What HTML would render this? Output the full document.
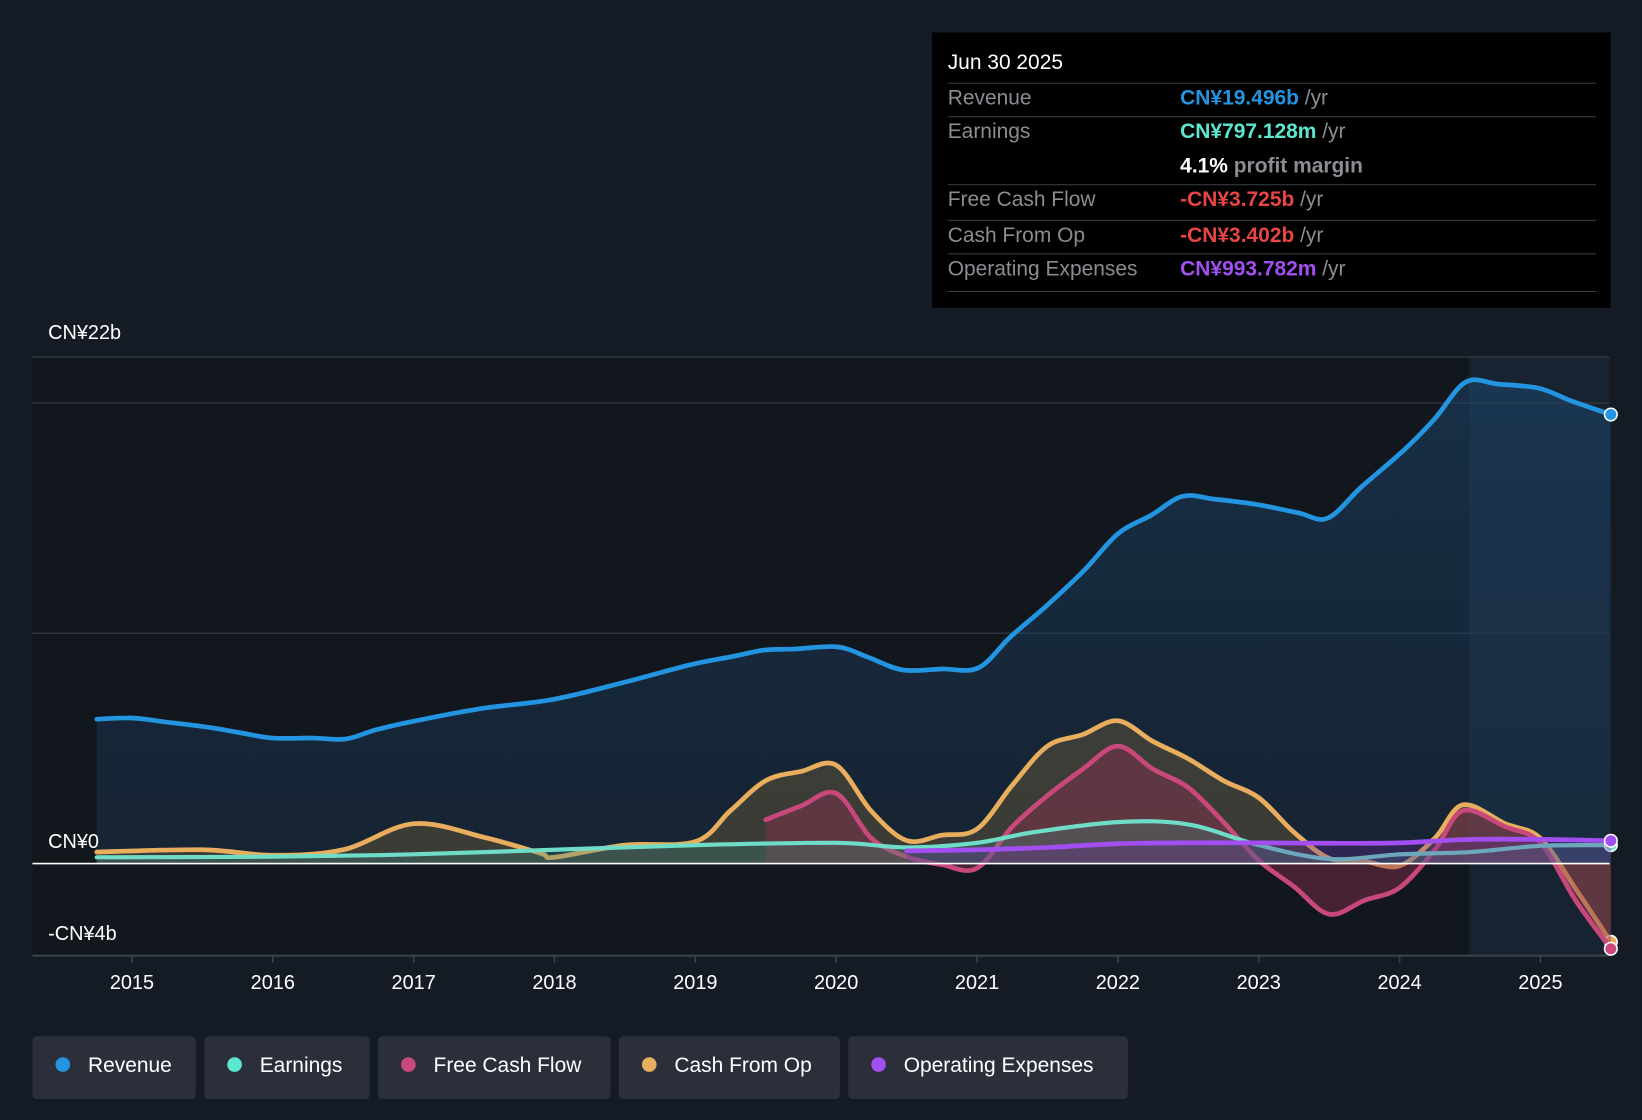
<!DOCTYPE html>
<html><head><meta charset="utf-8">
<style>
html,body{margin:0;padding:0;background:#151b24;overflow:hidden;width:1642px;height:1120px}
#root{position:absolute;left:0;top:0;width:1568px;height:1070px;transform:scale(1.04719,1.04673);transform-origin:0 0;background:#151b24;font-family:"Liberation Sans",sans-serif}
.tt{position:absolute;left:890px;top:31px;width:648px;height:263px;background:#000}
.tt .d{position:absolute;left:15px;top:18px;color:#fff;font-size:20px}
.row{position:absolute;left:15px;width:619px;border-top:1.5px solid #3a3d42;font-size:20px;color:#8a8d92}
.row .l{position:absolute;left:0;top:3px}
.row .v{position:absolute;left:222px;top:3px;font-weight:bold}
.row .v span{font-weight:normal;color:#8a8d92}
.lg{position:absolute;top:990px;height:60px;background:#2a2f3a;border-radius:4px;color:#fff;font-size:20px;line-height:57px}
.lg i{position:absolute;left:22px;top:20px;width:14px;height:14px;border-radius:50%}
.lg b{font-weight:normal;position:absolute;left:53px}
</style></head><body>
<div id="root">
<svg id="svg" width="1568" height="1070" style="position:absolute;left:0;top:0"></svg>
<div class="tt">
 <div class="d">Jun 30 2025</div>
 <div class="row" style="top:48px;height:32px"><div class="l">Revenue</div><div class="v" style="color:#2394e0">CN¥19.496b <span>/yr</span></div></div>
 <div class="row" style="top:80px;height:64px"><div class="l">Earnings</div><div class="v" style="color:#5ce8d0">CN¥797.128m <span>/yr</span></div><div class="v" style="top:36px;color:#fff">4.1% <span style="font-weight:bold">profit margin</span></div></div>
 <div class="row" style="top:145px;height:33px"><div class="l">Free Cash Flow</div><div class="v" style="color:#e84545">-CN¥3.725b <span>/yr</span></div></div>
 <div class="row" style="top:179px;height:32px"><div class="l">Cash From Op</div><div class="v" style="color:#e84545">-CN¥3.402b <span>/yr</span></div></div>
 <div class="row" style="top:211px;height:35px;border-bottom:1.5px solid #3a3d42"><div class="l">Operating Expenses</div><div class="v" style="color:#a24ef0">CN¥993.782m <span>/yr</span></div></div>
</div>
<div class="lg" style="left:31px;width:156px"><i style="background:#2394e0"></i><b>Revenue</b></div>
<div class="lg" style="left:195px;width:158px"><i style="background:#5ce8d0"></i><b>Earnings</b></div>
<div class="lg" style="left:361px;width:222px"><i style="background:#c9487c"></i><b>Free Cash Flow</b></div>
<div class="lg" style="left:591px;width:211px"><i style="background:#e8ae5e"></i><b>Cash From Op</b></div>
<div class="lg" style="left:810px;width:267px"><i style="background:#a24ef0"></i><b>Operating Expenses</b></div>
</div>
<script>
const revT=[2014.75,2015,2015.25,2015.55,2015.77,2016,2016.29,2016.52,2016.74,2017.04,2017.48,2018,2018.52,2018.97,2019.27,2019.49,2019.71,2020.01,2020.23,2020.47,2020.75,2021.01,2021.24,2021.5,2021.76,2022,2022.24,2022.46,2022.69,2022.99,2023.28,2023.49,2023.73,2024.03,2024.25,2024.47,2024.7,2024.99,2025.22,2025.5];
const revV=[6.27,6.32,6.14,5.91,5.68,5.45,5.45,5.41,5.82,6.23,6.73,7.14,7.91,8.64,9.0,9.27,9.32,9.41,8.95,8.41,8.45,8.5,9.86,11.23,12.73,14.32,15.14,15.95,15.82,15.59,15.23,15.0,16.36,17.95,19.32,20.91,20.82,20.64,20.09,19.5];
const earnT=[2014.75,2016,2017,2018,2019,2020,2020.5,2021,2021.4,2022,2022.5,2023,2023.5,2024,2024.5,2025,2025.5];
const earnV=[0.27,0.3,0.4,0.6,0.8,0.9,0.7,0.9,1.36,1.8,1.7,0.8,0.2,0.4,0.5,0.77,0.8];
const fcfT=[2019.5,2019.75,2020,2020.25,2020.5,2020.75,2021,2021.25,2021.5,2021.75,2022,2022.25,2022.5,2022.75,2023,2023.25,2023.5,2023.75,2024,2024.25,2024.45,2024.75,2025,2025.25,2025.5];
const fcfV=[1.9,2.5,3.05,1.1,0.3,-0.05,-0.2,1.6,2.95,4.1,5.1,4.1,3.3,1.8,0.14,-1.0,-2.2,-1.6,-1.05,0.6,2.3,1.6,0.9,-1.6,-3.7];
const cfoT=[2014.75,2015.5,2016,2016.5,2017,2017.5,2017.9,2018,2018.5,2019,2019.25,2019.5,2019.75,2020,2020.25,2020.5,2020.75,2021,2021.25,2021.5,2021.75,2022,2022.25,2022.5,2022.75,2023,2023.25,2023.5,2023.75,2024,2024.25,2024.45,2024.75,2025,2025.25,2025.5];
const cfoV=[0.5,0.6,0.36,0.6,1.73,1.14,0.45,0.27,0.8,0.95,2.3,3.6,4.0,4.27,2.27,1.0,1.23,1.5,3.4,5.1,5.6,6.2,5.3,4.55,3.6,2.86,1.36,0.23,0.1,-0.1,1.1,2.55,1.73,1.1,-1.1,-3.4];
const opxT=[2020.5,2021,2021.5,2022,2022.5,2023,2023.5,2024,2024.5,2025,2025.5];
const opxV=[0.55,0.6,0.7,0.86,0.9,0.9,0.88,0.9,1.05,1.05,0.99];
const yTicks=[22,0,-4];
const yTickLabels=["CN¥22b","CN¥0","-CN¥4b"];
const grid=[22,20,10];
const xYears=[2015,2016,2017,2018,2019,2020,2021,2022,2023,2024,2025];

const X=t=>126+(t-2015)*134.5;
const Y=v=>825-v*22;
const svg=document.getElementById('svg');
const NS='http://www.w3.org/2000/svg';
function mk(tag,attrs,name,parent){const e=document.createElementNS(NS,tag);for(const k in attrs)e.setAttribute(k,attrs[k]);


(parent||svg).appendChild(e);return e;}
function pathD(T,V){const p=T.map((t,i)=>[X(t),Y(V[i])]);let d='M'+p[0][0]+','+p[0][1];
for(let i=0;i<p.length-1;i++){const p0=p[i-1]||p[i],p1=p[i],p2=p[i+1],p3=p[i+2]||p2;
d+=' C'+(p1[0]+(p2[0]-p0[0])/6)+','+(p1[1]+(p2[1]-p0[1])/6)+' '+(p2[0]-(p3[0]-p1[0])/6)+','+(p2[1]-(p3[1]-p1[1])/6)+' '+p2[0]+','+p2[1];}
return d;}
const defs=mk('defs',{},'defs');
defs.innerHTML='<linearGradient id="rg" x1="0" y1="0" x2="0" y2="1"><stop offset="0" stop-color="#1d4a72" stop-opacity="0.8"/><stop offset="1" stop-color="#1a3550" stop-opacity="0.7"/></linearGradient>';
mk('rect',{x:31,y:341,width:1372,height:572,fill:'#12161d'},'plot-background');
mk('rect',{x:1403,y:341,width:134,height:572,fill:'#172331'},'forecast-highlight');
grid.forEach(g=>mk('line',{x1:31,x2:1537,y1:Y(g),y2:Y(g),stroke:'#2e343d','stroke-width':1.5},'gridline'));
mk('line',{x1:31,x2:1537,y1:913,y2:913,stroke:'#3a4049','stroke-width':2},'x-axis-line');
function series(T,V,color,fill,fo,name,w){const d=pathD(T,V);
mk('path',{d:d+' L'+X(T[T.length-1])+','+Y(0)+' L'+X(T[0])+','+Y(0)+' Z',fill:fill,'fill-opacity':fo},name+'-area');
mk('path',{d:d,fill:'none',stroke:color,'stroke-width':w||4.5,'stroke-linejoin':'round','stroke-linecap':'round'},name+'-line');
mk('circle',{cx:X(T[T.length-1]),cy:Y(V[V.length-1]),r:6,fill:color,stroke:'#fff','stroke-width':1.5},name+'-end-dot');}
series(revT,revV,'#2394e0','url(#rg)',0.6,'revenue');
series(cfoT,cfoV,'#e8ae5e','#6a5a3a',0.45,'cash-from-op');
series(fcfT,fcfV,'#c9487c','#8a3050',0.45,'free-cash-flow');
series(earnT,earnV,'#6fdcc8','#3a8a80',0.3,'earnings',4);
series(opxT,opxV,'#a24ef0','#6a30a0',0.3,'operating-expenses');
mk('line',{x1:31,x2:1537,y1:Y(0),y2:Y(0),stroke:'#fff','stroke-width':1.5},'zero-line');
yTicks.forEach((v,i)=>{const t=mk('text',{x:46,y:Y(v)-(v===0?15:v<0?15:17),fill:'#fff','font-size':19,'font-family':'Liberation Sans,sans-serif'},'y-tick-label');t.textContent=yTickLabels[i];});
xYears.forEach(y=>{mk('line',{x1:X(y),x2:X(y),y1:913,y2:920,stroke:'#3a4049','stroke-width':1.5},'x-tick');
const t=mk('text',{x:X(y),y:945,fill:'#fff','font-size':19,'text-anchor':'middle','font-family':'Liberation Sans,sans-serif'},'x-tick-label');t.textContent=y;});
</script>
</body></html>
